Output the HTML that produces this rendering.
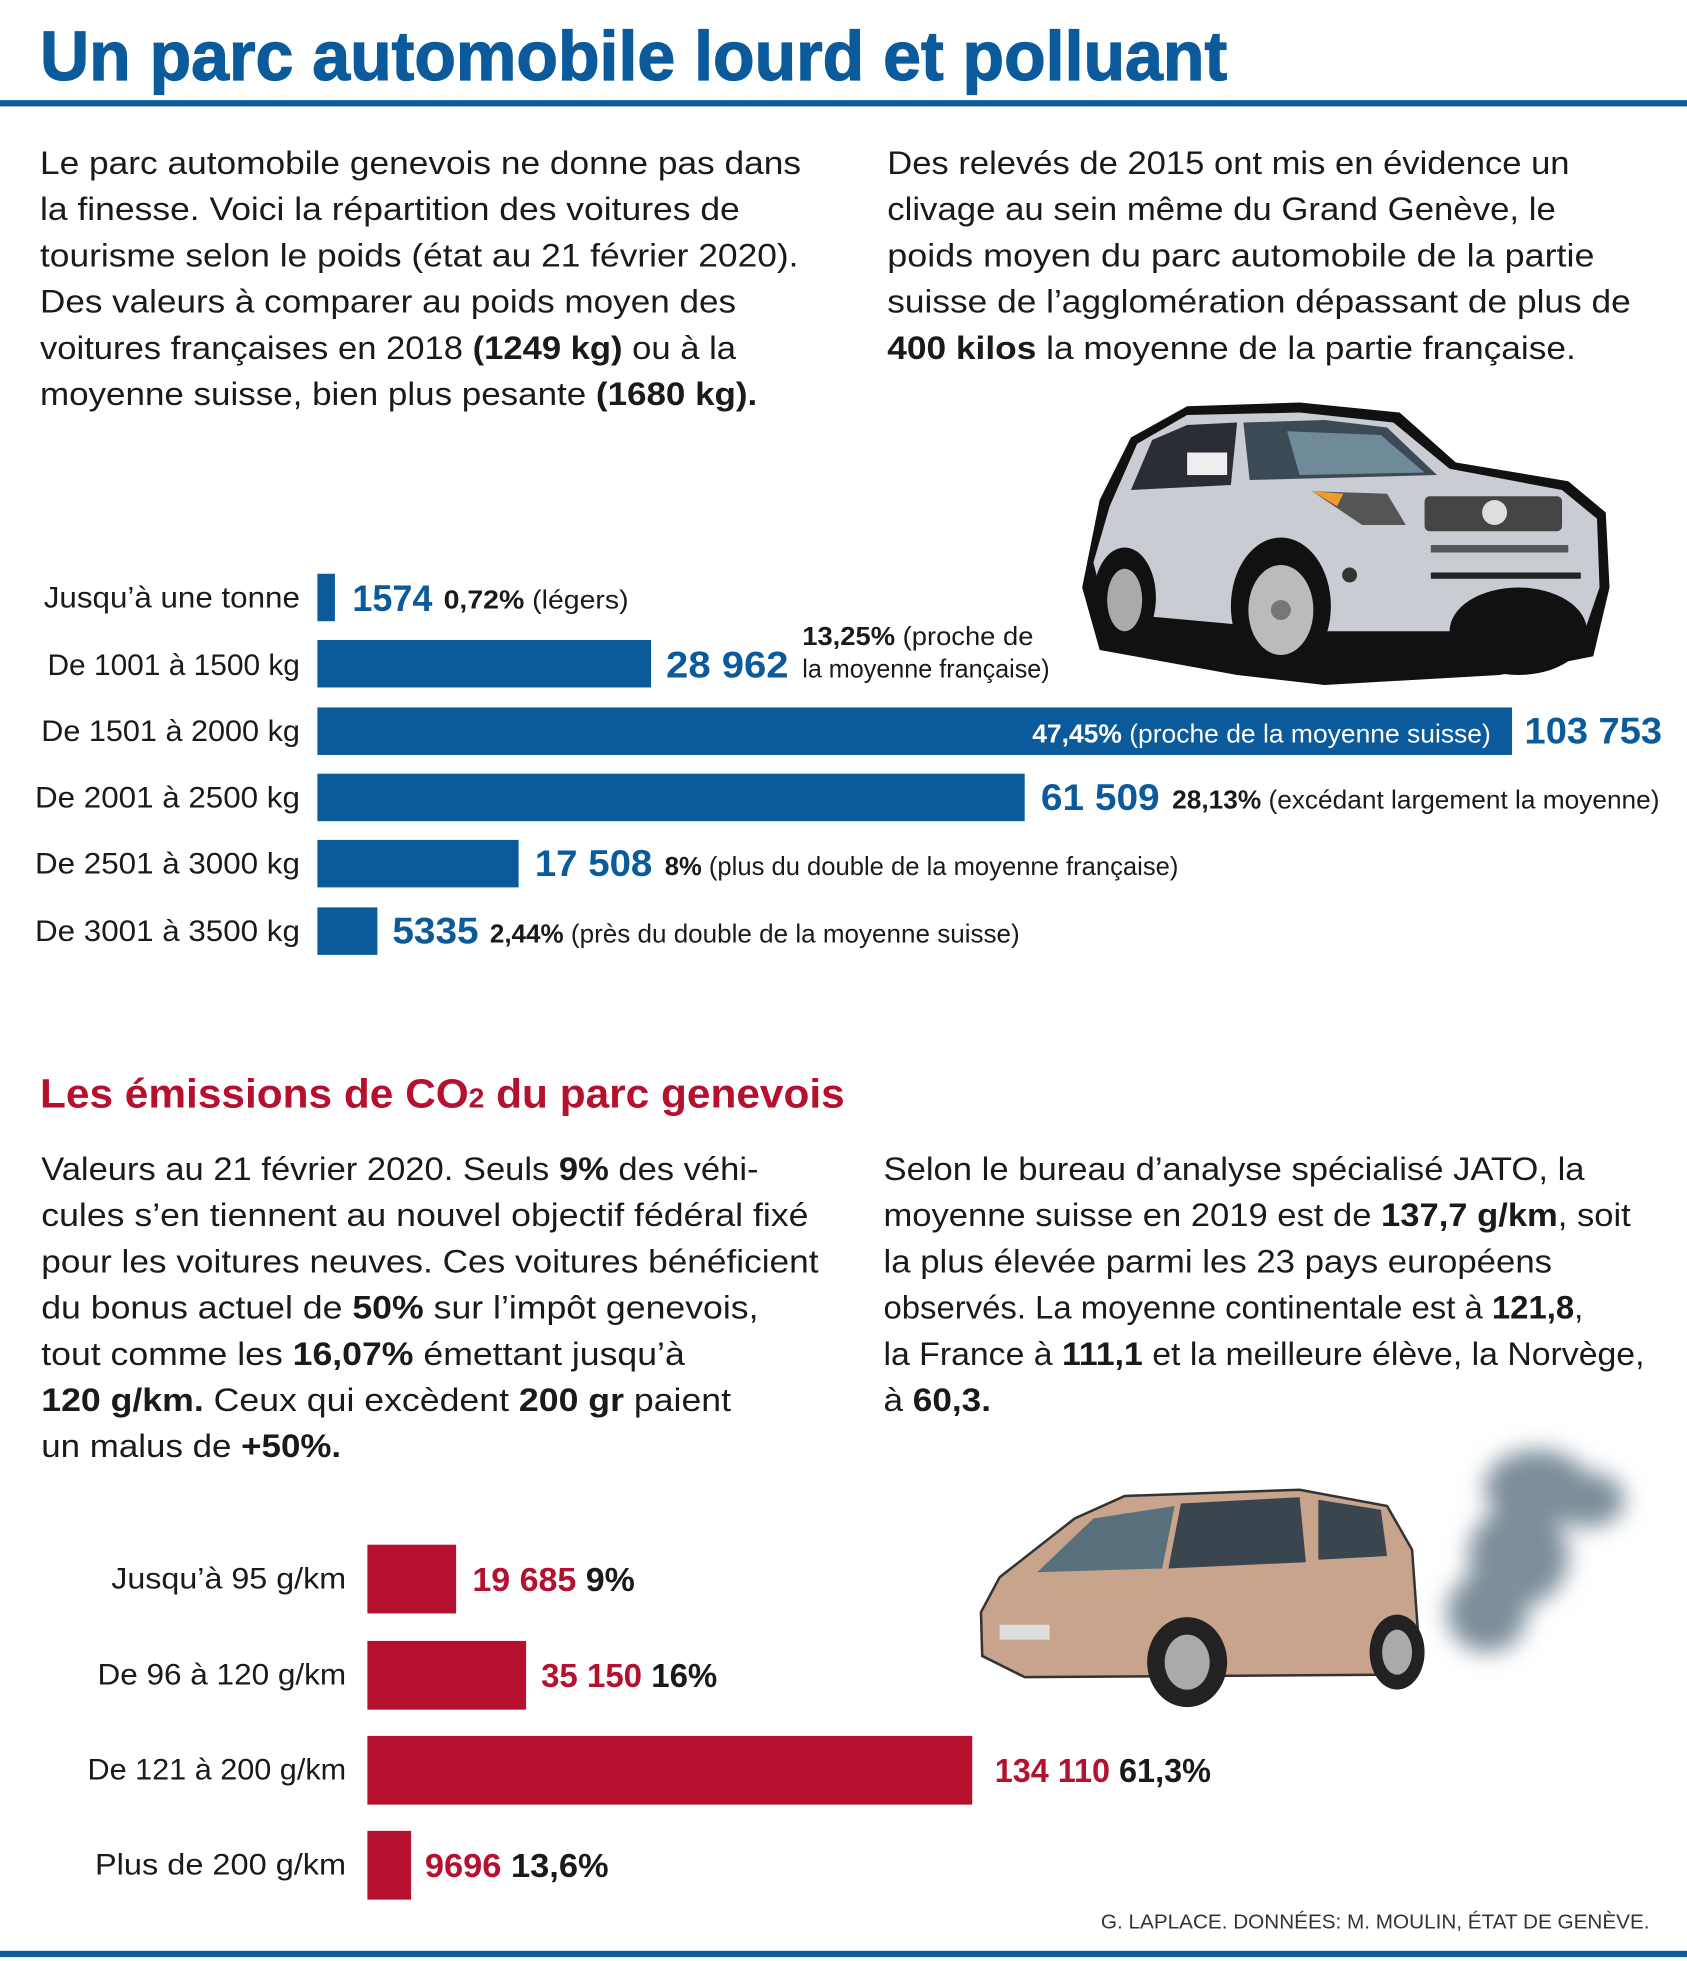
<!DOCTYPE html>
<html><head><meta charset="utf-8"><style>
html,body{margin:0;padding:0;background:#fff}
svg{display:block}
text{font-family:"Liberation Sans",sans-serif}
.b{font-weight:bold}
.bl{fill:#0a5a9c}
.rd{fill:#b5102e}
.tx{fill:#1a1a1a}
</style></head><body>
<svg width="1687" height="1961" viewBox="0 0 1350 1569" xmlns="http://www.w3.org/2000/svg">
<defs><filter id="bl" x="-30%" y="-30%" width="160%" height="160%"><feGaussianBlur stdDeviation="9"/></filter></defs>
<rect width="1350" height="1569" fill="#fff"/>
<text x="32" y="64" class="b bl" font-size="56" textLength="950" lengthAdjust="spacingAndGlyphs" stroke="#0a5a9c" stroke-width="1">Un parc automobile lourd et polluant</text>
<rect x="0" y="80" width="1350" height="5" fill="#0a5a9c"/>
<rect x="0" y="1561" width="1350" height="5" fill="#0a5a9c"/>

<g class="tx" font-size="26">
<text x="32" y="139" textLength="609" lengthAdjust="spacingAndGlyphs">Le parc automobile genevois ne donne pas dans</text>
<text x="32" y="176" textLength="560" lengthAdjust="spacingAndGlyphs">la finesse. Voici la répartition des voitures de</text>
<text x="32" y="213" textLength="607" lengthAdjust="spacingAndGlyphs">tourisme selon le poids (état au 21 février 2020).</text>
<text x="32" y="250" textLength="557" lengthAdjust="spacingAndGlyphs">Des valeurs à comparer au poids moyen des</text>
<text x="32" y="287" textLength="557" lengthAdjust="spacingAndGlyphs">voitures françaises en 2018 <tspan class="b">(1249 kg)</tspan> ou à la</text>
<text x="32" y="324" textLength="574" lengthAdjust="spacingAndGlyphs">moyenne suisse, bien plus pesante <tspan class="b">(1680 kg).</tspan></text>
<text x="710" y="139" textLength="546" lengthAdjust="spacingAndGlyphs">Des relevés de 2015 ont mis en évidence un</text>
<text x="710" y="176" textLength="535" lengthAdjust="spacingAndGlyphs">clivage au sein même du Grand Genève, le</text>
<text x="710" y="213" textLength="566" lengthAdjust="spacingAndGlyphs">poids moyen du parc automobile de la partie</text>
<text x="710" y="250" textLength="595" lengthAdjust="spacingAndGlyphs">suisse de l’agglomération dépassant de plus de</text>
<text x="710" y="287" textLength="551" lengthAdjust="spacingAndGlyphs"><tspan class="b">400 kilos</tspan> la moyenne de la partie française.</text>
</g>

<!-- SUV -->
<g>
<path d="M880,400 L905,350 L950,325 L1040,322 L1120,330 L1165,370 L1255,385 L1285,410 L1288,470 L1275,525 L1200,540 L1060,548 L990,540 L880,520 L866,470 Z" fill="#111"/>
<path d="M888,405 L910,355 L950,332 L1040,330 L1115,338 L1160,375 L1250,392 L1278,415 L1280,470 L1268,505 L1180,505 L1060,505 L995,500 L885,490 L875,450 Z" fill="#c9ccd2"/>
<path d="M905,392 L922,352 L950,340 L990,338 L985,388 Z" fill="#2a2d33"/>
<path d="M995,338 L1060,336 L1110,342 L1150,380 L1000,384 Z" fill="#3c4a55"/>
<path d="M1030,345 L1105,348 L1140,378 L1040,380 Z" fill="#6f8a98"/>
<rect x="950" y="362" width="32" height="18" fill="#eee"/>
<rect x="1140" y="397" width="110" height="28" rx="4" fill="#444"/>
<circle cx="1196" cy="410" r="10" fill="#ddd"/>
<path d="M1050,393 L1110,395 L1125,420 L1090,420 Z" fill="#555"/>
<path d="M1050,393 L1075,395 L1070,405 Z" fill="#f09a30"/>
<rect x="1145" y="436" width="110" height="6" fill="#555"/>
<rect x="1145" y="458" width="120" height="5" fill="#222"/>
<ellipse cx="1025" cy="485" rx="40" ry="55" fill="#111"/>
<ellipse cx="1025" cy="488" rx="26" ry="36" fill="#bbb"/>
<circle cx="1025" cy="488" r="8" fill="#777"/>
<ellipse cx="900" cy="478" rx="25" ry="40" fill="#111"/>
<ellipse cx="900" cy="480" rx="14" ry="25" fill="#aaa"/>
<ellipse cx="1215" cy="505" rx="55" ry="35" fill="#111"/>
<circle cx="1080" cy="460" r="6" fill="#333"/>
</g>

<!-- weight bars -->
<g font-size="24" class="tx" text-anchor="end">
<text x="240" y="486" textLength="205" lengthAdjust="spacingAndGlyphs">Jusqu’à une tonne</text>
<text x="240" y="540" textLength="202" lengthAdjust="spacingAndGlyphs">De 1001 à 1500 kg</text>
<text x="240" y="593" textLength="207" lengthAdjust="spacingAndGlyphs">De 1501 à 2000 kg</text>
<text x="240" y="646" textLength="212" lengthAdjust="spacingAndGlyphs">De 2001 à 2500 kg</text>
<text x="240" y="699" textLength="212" lengthAdjust="spacingAndGlyphs">De 2501 à 3000 kg</text>
<text x="240" y="753" textLength="212" lengthAdjust="spacingAndGlyphs">De 3001 à 3500 kg</text>
</g>
<g fill="#0a5a9c">
<rect x="254" y="459" width="14" height="38"/>
<rect x="254" y="512" width="267" height="38"/>
<rect x="254" y="566" width="956" height="38"/>
<rect x="254" y="619" width="566" height="38"/>
<rect x="254" y="672" width="161" height="38"/>
<rect x="254" y="726" width="48" height="38"/>
</g>
<g font-size="30" class="b bl">
<text x="282" y="489" textLength="64" lengthAdjust="spacingAndGlyphs">1574</text>
<text x="533" y="542" textLength="98" lengthAdjust="spacingAndGlyphs">28 962</text>
<text x="1220" y="595" textLength="110" lengthAdjust="spacingAndGlyphs">103 753</text>
<text x="833" y="648" textLength="95" lengthAdjust="spacingAndGlyphs">61 509</text>
<text x="428" y="701" textLength="94" lengthAdjust="spacingAndGlyphs">17 508</text>
<text x="314" y="755" textLength="69" lengthAdjust="spacingAndGlyphs">5335</text>
</g>
<g font-size="21" class="tx">
<text x="355" y="487" textLength="148" lengthAdjust="spacingAndGlyphs"><tspan class="b">0,72%</tspan> (légers)</text>
<text x="642" y="516" textLength="185" lengthAdjust="spacingAndGlyphs"><tspan class="b">13,25%</tspan> (proche de</text>
<text x="642" y="542" textLength="198" lengthAdjust="spacingAndGlyphs">la moyenne française)</text>
<text x="826" y="594" fill="#fff" textLength="367" lengthAdjust="spacingAndGlyphs"><tspan class="b">47,45%</tspan> (proche de la moyenne suisse)</text>
<text x="938" y="647" textLength="390" lengthAdjust="spacingAndGlyphs"><tspan class="b">28,13%</tspan> (excédant largement la moyenne)</text>
<text x="532" y="700" textLength="411" lengthAdjust="spacingAndGlyphs"><tspan class="b">8%</tspan> (plus du double de la moyenne française)</text>
<text x="392" y="754" textLength="424" lengthAdjust="spacingAndGlyphs"><tspan class="b">2,44%</tspan> (près du double de la moyenne suisse)</text>
</g>

<text x="32" y="886" class="b rd" font-size="33" textLength="644" lengthAdjust="spacingAndGlyphs">Les émissions de CO<tspan font-size="22">2</tspan> du parc genevois</text>

<g class="tx" font-size="26">
<text x="33" y="944" textLength="574" lengthAdjust="spacingAndGlyphs">Valeurs au 21 février 2020. Seuls <tspan class="b">9%</tspan> des véhi-</text>
<text x="33" y="981" textLength="614" lengthAdjust="spacingAndGlyphs">cules s’en tiennent au nouvel objectif fédéral fixé</text>
<text x="33" y="1018" textLength="622" lengthAdjust="spacingAndGlyphs">pour les voitures neuves. Ces voitures bénéficient</text>
<text x="33" y="1055" textLength="574" lengthAdjust="spacingAndGlyphs">du bonus actuel de <tspan class="b">50%</tspan> sur l’impôt genevois,</text>
<text x="33" y="1092" textLength="515" lengthAdjust="spacingAndGlyphs">tout comme les <tspan class="b">16,07%</tspan> émettant jusqu’à</text>
<text x="33" y="1129" textLength="552" lengthAdjust="spacingAndGlyphs"><tspan class="b">120 g/km.</tspan> Ceux qui excèdent <tspan class="b">200 gr</tspan> paient</text>
<text x="33" y="1166" textLength="240" lengthAdjust="spacingAndGlyphs">un malus de <tspan class="b">+50%.</tspan></text>
<text x="707" y="944" textLength="561" lengthAdjust="spacingAndGlyphs">Selon le bureau d’analyse spécialisé JATO, la</text>
<text x="707" y="981" textLength="598" lengthAdjust="spacingAndGlyphs">moyenne suisse en 2019 est de <tspan class="b">137,7 g/km</tspan>, soit</text>
<text x="707" y="1018" textLength="535" lengthAdjust="spacingAndGlyphs">la plus élevée parmi les 23 pays européens</text>
<text x="707" y="1055" textLength="560" lengthAdjust="spacingAndGlyphs">observés. La moyenne continentale est à <tspan class="b">121,8</tspan>,</text>
<text x="707" y="1092" textLength="609" lengthAdjust="spacingAndGlyphs">la France à <tspan class="b">111,1</tspan> et la meilleure élève, la Norvège,</text>
<text x="707" y="1129" textLength="86" lengthAdjust="spacingAndGlyphs">à <tspan class="b">60,3.</tspan></text>
</g>

<!-- smoke -->
<g fill="#7d8e9a" filter="url(#bl)">
<ellipse cx="1230" cy="1190" rx="42" ry="30"/>
<ellipse cx="1270" cy="1200" rx="30" ry="22"/>
<ellipse cx="1215" cy="1245" rx="40" ry="40"/>
<ellipse cx="1190" cy="1290" rx="32" ry="32"/>
</g>
<!-- small car -->
<g>
<path d="M785,1290 L800,1262 L860,1215 L900,1197 L1040,1192 L1110,1205 L1130,1240 L1135,1310 L1120,1340 L820,1342 L786,1325 Z" fill="#c8a48c" stroke="#333" stroke-width="2"/>
<path d="M830,1258 L875,1215 L940,1205 L930,1255 Z" fill="#58707c"/>
<path d="M945,1203 L1040,1198 L1045,1250 L935,1255 Z" fill="#3a4550"/>
<path d="M1055,1200 L1105,1208 L1110,1245 L1055,1248 Z" fill="#3a4550"/>
<rect x="800" y="1300" width="40" height="12" fill="#ddd"/>
<ellipse cx="950" cy="1330" rx="32" ry="36" fill="#222"/>
<ellipse cx="950" cy="1330" rx="18" ry="22" fill="#aaa"/>
<ellipse cx="1118" cy="1322" rx="22" ry="30" fill="#222"/>
<ellipse cx="1118" cy="1322" rx="12" ry="18" fill="#aaa"/>
</g>

<!-- CO2 bars -->
<g font-size="24" class="tx" text-anchor="end">
<text x="277" y="1271" textLength="188" lengthAdjust="spacingAndGlyphs">Jusqu’à 95 g/km</text>
<text x="277" y="1348" textLength="199" lengthAdjust="spacingAndGlyphs">De 96 à 120 g/km</text>
<text x="277" y="1424" textLength="207" lengthAdjust="spacingAndGlyphs">De 121 à 200 g/km</text>
<text x="277" y="1500" textLength="201" lengthAdjust="spacingAndGlyphs">Plus de 200 g/km</text>
</g>
<g fill="#b5102e">
<rect x="294" y="1236" width="71" height="55"/>
<rect x="294" y="1313" width="127" height="55"/>
<rect x="294" y="1389" width="484" height="55"/>
<rect x="294" y="1465" width="35" height="55"/>
</g>
<g font-size="27" class="b">
<text x="378" y="1273" textLength="130" lengthAdjust="spacingAndGlyphs"><tspan class="rd">19 685</tspan> <tspan class="tx">9%</tspan></text>
<text x="433" y="1350" textLength="141" lengthAdjust="spacingAndGlyphs"><tspan class="rd">35 150</tspan> <tspan class="tx">16%</tspan></text>
<text x="796" y="1426" textLength="173" lengthAdjust="spacingAndGlyphs"><tspan class="rd">134 110</tspan> <tspan class="tx">61,3%</tspan></text>
<text x="340" y="1502" textLength="147" lengthAdjust="spacingAndGlyphs"><tspan class="rd">9696</tspan> <tspan class="tx">13,6%</tspan></text>
</g>
<text x="881" y="1543" font-size="16" fill="#333" textLength="439" lengthAdjust="spacingAndGlyphs">G. LAPLACE. DONNÉES: M. MOULIN, ÉTAT DE GENÈVE.</text>
</svg>
</body></html>
